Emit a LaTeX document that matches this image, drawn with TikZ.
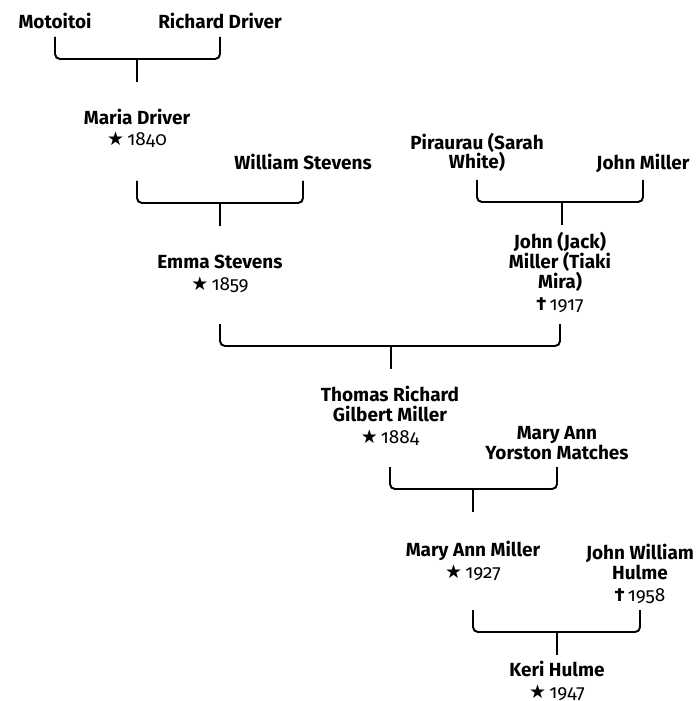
\documentclass[tikz,border=0pt]{standalone}
\usepackage{fontspec}
\setmainfont{Fira Sans}[Numbers=OldStyle]
\newfontfamily\symfont{DejaVu Sans}
\usetikzlibrary{positioning, calc}

\newcommand{\born}[1]{{\mdseries{\symfont ★}\,#1}}
\newcommand{\died}[1]{{\bfseries †}\,{\mdseries #1}}

\begin{document}
\begin{tikzpicture}[x=0.025cm, y=-0.025cm]
    % Define styles (anchor base = baseline of the last line)
    \tikzset{
        person/.style={anchor=base, align=center, inner sep=0pt, font=\fontsize{13.5}{14.2}\selectfont\bfseries},
        bond/.style={line width=1.4pt, rounded corners=3.5pt},
    }
    \useasboundingbox (0,0) rectangle (697,701);

    % People
    \node[person] (motoitoi) at (55,29) {Motoitoi};
    \node[person] (richard) at (220,29) {Richard Driver};
    \node[person] (maria) at (137,146) {Maria Driver\\[1pt]\born{1840}};
    \node[person] (william) at (303,170) {William Stevens};
    \node[person] (pirau) at (477,169) {Piraurau (Sarah\\White)};
    \node[person] (johnm) at (643,170) {John Miller};
    \node[person] (emma) at (220,290) {Emma Stevens\\[1pt]\born{1859}};
    \node[person] (jack) at (560,310) {John (Jack)\\Miller (Tiaki\\Mira)\\[1pt]\died{1917}};
    \node[person] (thomas) at (390,443) {Thomas Richard\\Gilbert Miller\\[1pt]\born{1884}};
    \node[person] (maryann) at (557,459) {Mary Ann\\Yorston Matches};
    \node[person] (marymiller) at (473,578) {Mary Ann Miller\\[1pt]\born{1927}};
    \node[person] (johnw) at (640,601) {John William\\Hulme\\[1pt]\died{1958}};
    \node[person] (keri) at (557,698) {Keri Hulme\\[1pt]\born{1947}};

    % Junctions of the couples
    \coordinate (j1) at (137,59);
    \coordinate (j2) at (220,203);
    \coordinate (j3) at (562,202);
    \coordinate (j4) at (391,346);
    \coordinate (j5) at (473,489);
    \coordinate (j6) at (557,632);

    % Brackets and stems
    \foreach \a/\b/\j in {motoitoi/richard/j1, maria/william/j2, pirau/johnm/j3,
                          emma/jack/j4, thomas/maryann/j5, marymiller/johnw/j6} {
        \draw[bond] ($(\a |- \j)+(0,-22)$) -- (\a |- \j) -- (\b |- \j) -- ($(\b |- \j)+(0,-22)$);
        \draw[bond] (\j) -- ++(0,23);
    }
\end{tikzpicture}
\end{document}
